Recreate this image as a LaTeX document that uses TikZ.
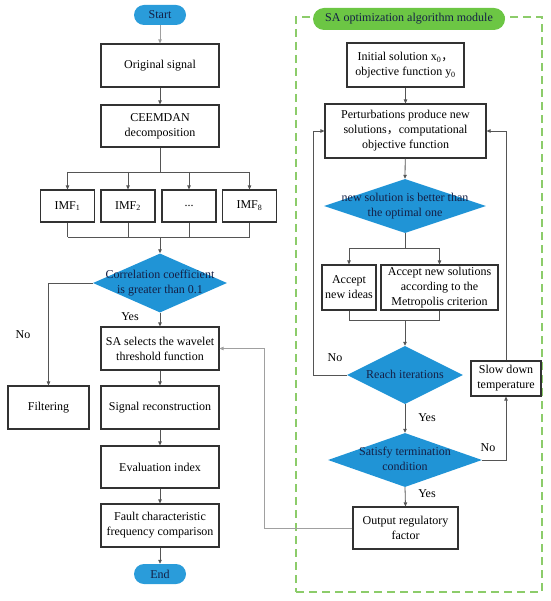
\documentclass[tikz,border=0pt]{standalone}
\usepackage{fontspec}
\setmainfont{Liberation Serif}
\newfontfamily\cjk{Noto Sans CJK SC}
\usetikzlibrary{arrows.meta,shapes.geometric,calc}
\definecolor{dblue}{RGB}{32,148,214}
\definecolor{pblue}{RGB}{42,156,218}
\definecolor{gpil}{RGB}{108,198,68}
\definecolor{gdash}{RGB}{140,204,106}
\definecolor{boxc}{RGB}{50,50,50}
\definecolor{linec}{RGB}{85,85,85}
\definecolor{lgray}{RGB}{160,160,160}
\definecolor{navy}{RGB}{20,32,70}
\newcommand\dtxt[1]{\smash{\makebox[0pt]{\raisebox{-3pt}{\begin{tabular}{@{}c@{}}#1\end{tabular}}}}}
\newcommand\fwc{{\cjk ，}}
\begin{document}
\begin{tikzpicture}[x=1pt,y=-1pt,font=\fontsize{12}{15}\selectfont,
  box/.style={draw=boxc,line width=1.1pt,fill=white,align=center,inner sep=0pt},
  pill/.style={fill=pblue,rounded corners=10pt,inner sep=0pt,text=navy,minimum width=52,minimum height=20},
  gpill/.style={fill=gpil,rounded corners=11pt,inner sep=0pt,text=navy,minimum width=192,minimum height=22},
  dia/.style={diamond,fill=dblue,inner sep=0pt,text=navy},
  ln/.style={draw=linec,line width=0.8pt},
  arr/.style={draw=linec,line width=0.8pt,-{Triangle[length=4pt,width=3.5pt]}},
  garr/.style={draw=lgray,line width=0.8pt,-{Triangle[length=4pt,width=3.5pt]}},
  lab/.style={inner sep=0pt,text=black},
  frame/.style={draw=gdash,line width=1.1pt,dash pattern=on 8pt off 5pt,inner sep=0pt}]
\useasboundingbox (0,0) rectangle (550,601);
% right module frame
\node[frame,minimum width=246,minimum height=575] (mod) at (419,304.5) {};
\node[gpill] (title) at (409,19) {SA optimization algorithm module};
% left column
\node[pill] (start) at (160,15) {Start};
\node[box,minimum width=118,minimum height=43] (orig) at (160,65.5) {Original signal};
\node[box,minimum width=118,minimum height=42] (ceem) at (160,126) {CEEMDAN\\decomposition};
\node[box,minimum width=54,minimum height=32] (imf1) at (67.5,206) {IMF\textsubscript{1}};
\node[box,minimum width=54,minimum height=32] (imf2) at (128,206) {IMF\textsubscript{2}};
\node[box,minimum width=54,minimum height=32] (imf3) at (189,206) {...};
\node[box,minimum width=54,minimum height=32] (imf8) at (249.5,206) {IMF\textsubscript{8}};
\node[dia,minimum width=134,minimum height=59] (corr) at (160,283) {\dtxt{Correlation coefficient\\is greater than 0.1}};
\node[box,minimum width=118,minimum height=43] (sa) at (160,348.5) {SA selects the wavelet\\threshold function};
\node[box,minimum width=81,minimum height=43] (filt) at (48.5,407.5) {Filtering};
\node[box,minimum width=118,minimum height=43] (recon) at (160,407.5) {Signal reconstruction};
\node[box,minimum width=118,minimum height=42] (eval) at (160,467) {Evaluation index};
\node[box,minimum width=118,minimum height=43] (fault) at (160,525.5) {Fault characteristic\\frequency comparison};
\node[pill] (end) at (160,574) {End};
\node[lab] (yes1) at (130,317) {Yes};
\node[lab] (no1) at (23,335) {No};
% right column
\node[box,minimum width=117,minimum height=44] (init) at (405.5,65) {Initial solution x\textsubscript{0}\fwc\\objective function y\textsubscript{0}};
\node[box,minimum width=161,minimum height=54] (pert) at (405.5,131) {Perturbations produce new\\solutions\fwc computational\\objective function};
\node[dia,minimum width=162,minimum height=54] (better) at (405,206) {\dtxt{new solution is better than\\the optimal one}};
\node[box,minimum width=54,minimum height=45] (acc1) at (349,287.5) {Accept\\new ideas};
\node[box,minimum width=117,minimum height=45] (acc2) at (439.5,287.5) {Accept new solutions\\according to the\\Metropolis criterion};
\node[dia,minimum width=116,minimum height=58] (reach) at (405,375) {\dtxt{Reach iterations}};
\node[box,minimum width=70,minimum height=35] (slow) at (506,378.5) {Slow down\\temperature};
\node[dia,minimum width=154,minimum height=54] (term) at (405,460) {\dtxt{Satisfy termination\\condition}};
\node[box,minimum width=105,minimum height=42] (out) at (405.5,528) {Output regulatory\\factor};
\node[lab] (no2) at (335,358) {No};
\node[lab] (yes2) at (427,418) {Yes};
\node[lab] (no3) at (488,448) {No};
\node[lab] (yes3) at (427,494) {Yes};
% left connectors
\draw[garr] (start) -- (orig);
\draw[arr] (orig) -- (ceem);
\coordinate (br) at (160,172);
\coordinate (mg) at (160,237);
\draw[ln] (ceem.south) -- (br);
\draw[ln] (imf1.north |- br) -- (imf8.north |- br);
\foreach \n in {imf1,imf2,imf3,imf8}{\draw[arr] (\n.north |- br) -- (\n.north);}
\foreach \n in {imf1,imf2,imf3,imf8}{\draw[ln] (\n.south) -- (\n.south |- mg);}
\draw[ln] (imf1.south |- mg) -- (imf8.south |- mg);
\draw[arr] (mg) -- (corr.north);
\draw[arr] (corr.south) -- (sa.north);
\draw[arr] (corr.west) -| (filt.north);
\draw[arr] (sa) -- (recon);
\draw[arr] (recon) -- (eval);
\draw[arr] (eval) -- (fault);
\draw[arr] (fault) -- (end);
% right connectors
\draw[arr] (init) -- (pert);
\draw[arr] (pert) -- (better.north);
\coordinate (br2) at (405,248);
\coordinate (mg2) at (405,320);
\draw[ln] (better.south) -- (br2);
\draw[ln] (acc1.north |- br2) -- (acc2.north |- br2);
\draw[arr] (acc1.north |- br2) -- (acc1.north);
\draw[arr] (acc2.north |- br2) -- (acc2.north);
\draw[ln] (acc1.south) -- (acc1.south |- mg2) -- (acc2.south |- mg2) -- (acc2.south);
\draw[arr] (mg2) -- (reach.north);
\coordinate (lft) at (313,375);
\draw[arr] (reach.west) -- (lft) |- (pert.west);
\draw[arr] (reach.south) -- (term.north);
\draw[arr] (term.east) -| (slow.south);
\draw[arr] (slow.north) |- (pert.east);
\draw[arr] (term.south) -- (out.north);
\coordinate (fb) at (264,528);
\draw[garr] (out.west) -- (fb) |- (sa.east);
\end{tikzpicture}
\end{document}
